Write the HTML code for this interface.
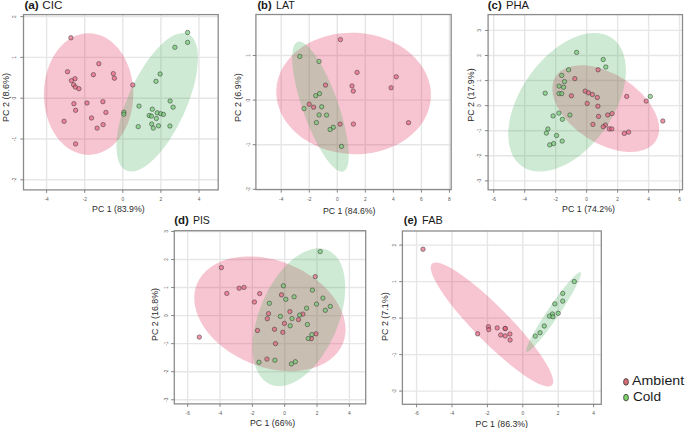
<!DOCTYPE html>
<html><head><meta charset="utf-8"><style>
html,body{margin:0;padding:0;background:#fff;}
body{width:685px;height:428px;overflow:hidden;}
svg{display:block;}
text{font-family:"Liberation Sans",sans-serif;}
.tk{font-size:4.8px;fill:#555;}
.ti{font-size:10.8px;fill:#1a1a1a;}
.ax{font-size:9.2px;fill:#2a2a2a;}
.lg{font-size:13.1px;fill:#1a1a1a;}
circle{stroke:rgba(55,55,55,0.7);stroke-width:0.75;}
</style></head><body>
<svg width="685" height="428" viewBox="0 0 685 428">
<g id="pa">
<path d="M46.6 14.6V189.9M84.7 14.6V189.9M122.8 14.6V189.9M160.9 14.6V189.9M199 14.6V189.9M23.5 179.8H218.2M23.5 139H218.2M23.5 98.2H218.2M23.5 57.4H218.2M23.5 16.6H218.2" stroke="rgb(230,230,230)" stroke-width="1.4" fill="none"/>
<ellipse cx="88.6" cy="94.1" rx="44.7" ry="60.9" transform="rotate(0 88.6 94.1)" fill="rgb(223,23,71)" fill-opacity="0.25"/>
<ellipse cx="157.2" cy="102.25" rx="29.1" ry="75" transform="rotate(24.4 157.2 102.25)" fill="rgb(59,171,83)" fill-opacity="0.25"/>
<circle cx="70.9" cy="37.8" r="2.2" fill="rgba(232,94,124,0.65)"/>
<circle cx="98.8" cy="63.7" r="2.2" fill="rgba(232,94,124,0.65)"/>
<circle cx="67.5" cy="71.7" r="2.2" fill="rgba(232,94,124,0.65)"/>
<circle cx="93.4" cy="74.7" r="2.2" fill="rgba(232,94,124,0.65)"/>
<circle cx="113.3" cy="73.6" r="2.2" fill="rgba(232,94,124,0.65)"/>
<circle cx="114.4" cy="78.2" r="2.2" fill="rgba(232,94,124,0.65)"/>
<circle cx="75" cy="78.7" r="2.2" fill="rgba(232,94,124,0.65)"/>
<circle cx="71.4" cy="80.6" r="2.2" fill="rgba(232,94,124,0.65)"/>
<circle cx="73.6" cy="84.8" r="2.2" fill="rgba(232,94,124,0.65)"/>
<circle cx="75.4" cy="87.1" r="2.2" fill="rgba(232,94,124,0.65)"/>
<circle cx="78.9" cy="88.7" r="2.2" fill="rgba(232,94,124,0.65)"/>
<circle cx="73.9" cy="103.7" r="2.2" fill="rgba(232,94,124,0.65)"/>
<circle cx="87" cy="103" r="2.2" fill="rgba(232,94,124,0.65)"/>
<circle cx="102.9" cy="101.7" r="2.2" fill="rgba(232,94,124,0.65)"/>
<circle cx="75.6" cy="110.3" r="2.2" fill="rgba(232,94,124,0.65)"/>
<circle cx="105.9" cy="112.4" r="2.2" fill="rgba(232,94,124,0.65)"/>
<circle cx="64.1" cy="121.3" r="2.2" fill="rgba(232,94,124,0.65)"/>
<circle cx="91.5" cy="118" r="2.2" fill="rgba(232,94,124,0.65)"/>
<circle cx="103.1" cy="124.6" r="2.2" fill="rgba(232,94,124,0.65)"/>
<circle cx="97.1" cy="128.1" r="2.2" fill="rgba(232,94,124,0.65)"/>
<circle cx="75.6" cy="143.9" r="2.2" fill="rgba(232,94,124,0.65)"/>
<circle cx="132.8" cy="85" r="2.2" fill="rgba(232,94,124,0.65)"/>
<circle cx="187.6" cy="32.5" r="2.2" fill="rgba(109,201,109,0.65)"/>
<circle cx="187.6" cy="42.4" r="2.2" fill="rgba(109,201,109,0.65)"/>
<circle cx="174.9" cy="47.3" r="2.2" fill="rgba(109,201,109,0.65)"/>
<circle cx="160.1" cy="74" r="2.2" fill="rgba(109,201,109,0.65)"/>
<circle cx="156" cy="81.3" r="2.2" fill="rgba(109,201,109,0.65)"/>
<circle cx="170.1" cy="101" r="2.2" fill="rgba(109,201,109,0.65)"/>
<circle cx="173.1" cy="107.2" r="2.2" fill="rgba(109,201,109,0.65)"/>
<circle cx="139" cy="106.1" r="2.2" fill="rgba(109,201,109,0.65)"/>
<circle cx="152.3" cy="109.2" r="2.2" fill="rgba(109,201,109,0.65)"/>
<circle cx="123.8" cy="112.2" r="2.2" fill="rgba(109,201,109,0.65)"/>
<circle cx="123.8" cy="114.2" r="2.2" fill="rgba(109,201,109,0.65)"/>
<circle cx="157.2" cy="112.8" r="2.2" fill="rgba(109,201,109,0.65)"/>
<circle cx="160.7" cy="113.7" r="2.2" fill="rgba(109,201,109,0.65)"/>
<circle cx="163.4" cy="114.4" r="2.2" fill="rgba(109,201,109,0.65)"/>
<circle cx="149.2" cy="115.5" r="2.2" fill="rgba(109,201,109,0.65)"/>
<circle cx="151.4" cy="116.1" r="2.2" fill="rgba(109,201,109,0.65)"/>
<circle cx="156.4" cy="118.5" r="2.2" fill="rgba(109,201,109,0.65)"/>
<circle cx="151.7" cy="124" r="2.2" fill="rgba(109,201,109,0.65)"/>
<circle cx="138.2" cy="126.6" r="2.2" fill="rgba(109,201,109,0.65)"/>
<circle cx="158.5" cy="125.8" r="2.2" fill="rgba(109,201,109,0.65)"/>
<circle cx="169.9" cy="126" r="2.2" fill="rgba(109,201,109,0.65)"/>
<circle cx="153.3" cy="128.1" r="2.2" fill="rgba(109,201,109,0.65)"/>
<rect x="23.5" y="14.6" width="194.7" height="175.3" fill="none" stroke="rgb(140,140,140)" stroke-width="1.3"/>
<path d="M46.6 189.9v3M84.7 189.9v3M122.8 189.9v3M160.9 189.9v3M199 189.9v3M23.5 179.8h-3.2M23.5 139h-3.2M23.5 98.2h-3.2M23.5 57.4h-3.2M23.5 16.6h-3.2" stroke="rgb(120,120,120)" stroke-width="0.9" fill="none"/>
<text x="46.6" y="201" class="tk" text-anchor="middle">-4</text>
<text x="84.7" y="201" class="tk" text-anchor="middle">-2</text>
<text x="122.8" y="201" class="tk" text-anchor="middle">0</text>
<text x="160.9" y="201" class="tk" text-anchor="middle">2</text>
<text x="199" y="201" class="tk" text-anchor="middle">4</text>
<text transform="translate(16 179.8) rotate(-90)" class="tk" text-anchor="middle">-2</text>
<text transform="translate(16 139) rotate(-90)" class="tk" text-anchor="middle">-1</text>
<text transform="translate(16 98.2) rotate(-90)" class="tk" text-anchor="middle">0</text>
<text transform="translate(16 57.4) rotate(-90)" class="tk" text-anchor="middle">1</text>
<text transform="translate(16 16.6) rotate(-90)" class="tk" text-anchor="middle">2</text>
<text x="24.4" y="8.9" class="ti" font-weight="bold" textLength="14.4" lengthAdjust="spacingAndGlyphs">(a)</text>
<text x="42.3" y="8.9" class="ti" textLength="20.2" lengthAdjust="spacingAndGlyphs">CIC</text>
<text x="92.1" y="212" class="ax" textLength="52.5" lengthAdjust="spacingAndGlyphs">PC 1 (83.9%)</text>
<text transform="translate(9.1 121.9) rotate(-90)" class="ax" textLength="49" lengthAdjust="spacingAndGlyphs">PC 2 (8.6%)</text>
</g>
<g id="pb">
<path d="M281.22 14.5V189.6M309.26 14.5V189.6M337.3 14.5V189.6M365.34 14.5V189.6M393.38 14.5V189.6M421.42 14.5V189.6M449.46 14.5V189.6M255.9 189.3H451.2M255.9 144.7H451.2M255.9 100.1H451.2M255.9 55.5H451.2" stroke="rgb(230,230,230)" stroke-width="1.4" fill="none"/>
<ellipse cx="353.6" cy="93.45" rx="77.4" ry="60.7" transform="rotate(3 353.6 93.45)" fill="rgb(223,23,71)" fill-opacity="0.25"/>
<ellipse cx="320.45" cy="106.6" rx="17.8" ry="68.7" transform="rotate(-19.4 320.45 106.6)" fill="rgb(59,171,83)" fill-opacity="0.25"/>
<circle cx="340.4" cy="39.6" r="2.2" fill="rgba(232,94,124,0.65)"/>
<circle cx="325.5" cy="85.1" r="2.2" fill="rgba(232,94,124,0.65)"/>
<circle cx="357.1" cy="72.4" r="2.2" fill="rgba(232,94,124,0.65)"/>
<circle cx="352" cy="85.9" r="2.2" fill="rgba(232,94,124,0.65)"/>
<circle cx="353.3" cy="91.1" r="2.2" fill="rgba(232,94,124,0.65)"/>
<circle cx="396.3" cy="76.8" r="2.2" fill="rgba(232,94,124,0.65)"/>
<circle cx="391.1" cy="87.8" r="2.2" fill="rgba(232,94,124,0.65)"/>
<circle cx="309.2" cy="104.2" r="2.2" fill="rgba(232,94,124,0.65)"/>
<circle cx="313.6" cy="107.2" r="2.2" fill="rgba(232,94,124,0.65)"/>
<circle cx="340.1" cy="124.1" r="2.2" fill="rgba(232,94,124,0.65)"/>
<circle cx="353.4" cy="124.1" r="2.2" fill="rgba(232,94,124,0.65)"/>
<circle cx="408.5" cy="122.7" r="2.2" fill="rgba(232,94,124,0.65)"/>
<circle cx="299.8" cy="56.4" r="2.2" fill="rgba(109,201,109,0.65)"/>
<circle cx="319" cy="61.4" r="2.2" fill="rgba(109,201,109,0.65)"/>
<circle cx="315.7" cy="95.7" r="2.2" fill="rgba(109,201,109,0.65)"/>
<circle cx="319.5" cy="93.6" r="2.2" fill="rgba(109,201,109,0.65)"/>
<circle cx="304" cy="108.6" r="2.2" fill="rgba(109,201,109,0.65)"/>
<circle cx="321.7" cy="106.8" r="2.2" fill="rgba(109,201,109,0.65)"/>
<circle cx="319.1" cy="114.9" r="2.2" fill="rgba(109,201,109,0.65)"/>
<circle cx="326.6" cy="115.1" r="2.2" fill="rgba(109,201,109,0.65)"/>
<circle cx="316.4" cy="122.6" r="2.2" fill="rgba(109,201,109,0.65)"/>
<circle cx="333.3" cy="127.3" r="2.2" fill="rgba(109,201,109,0.65)"/>
<circle cx="330.1" cy="129.5" r="2.2" fill="rgba(109,201,109,0.65)"/>
<circle cx="341.5" cy="146.4" r="2.2" fill="rgba(109,201,109,0.65)"/>
<rect x="255.9" y="14.5" width="195.3" height="175.1" fill="none" stroke="rgb(140,140,140)" stroke-width="1.3"/>
<path d="M281.22 189.6v3M309.26 189.6v3M337.3 189.6v3M365.34 189.6v3M393.38 189.6v3M421.42 189.6v3M449.46 189.6v3M255.9 189.3h-3.2M255.9 144.7h-3.2M255.9 100.1h-3.2M255.9 55.5h-3.2" stroke="rgb(120,120,120)" stroke-width="0.9" fill="none"/>
<text x="281.22" y="201" class="tk" text-anchor="middle">-4</text>
<text x="309.26" y="201" class="tk" text-anchor="middle">-2</text>
<text x="337.3" y="201" class="tk" text-anchor="middle">0</text>
<text x="365.34" y="201" class="tk" text-anchor="middle">2</text>
<text x="393.38" y="201" class="tk" text-anchor="middle">4</text>
<text x="421.42" y="201" class="tk" text-anchor="middle">6</text>
<text x="449.46" y="201" class="tk" text-anchor="middle">8</text>
<text transform="translate(249.5 189.3) rotate(-90)" class="tk" text-anchor="middle">-2</text>
<text transform="translate(249.5 144.7) rotate(-90)" class="tk" text-anchor="middle">-1</text>
<text transform="translate(249.5 100.1) rotate(-90)" class="tk" text-anchor="middle">0</text>
<text transform="translate(249.5 55.5) rotate(-90)" class="tk" text-anchor="middle">1</text>
<text x="257.4" y="8.9" class="ti" font-weight="bold" textLength="14.3" lengthAdjust="spacingAndGlyphs">(b)</text>
<text x="276.1" y="8.9" class="ti" textLength="18.8" lengthAdjust="spacingAndGlyphs">LAT</text>
<text x="323" y="214.2" class="ax" textLength="52.5" lengthAdjust="spacingAndGlyphs">PC 1 (84.6%)</text>
<text transform="translate(241.2 122) rotate(-90)" class="ax" textLength="48.7" lengthAdjust="spacingAndGlyphs">PC 2 (6.9%)</text>
</g>
<g id="pc">
<path d="M493.71 14.6V189.8M524.69 14.6V189.8M555.67 14.6V189.8M586.65 14.6V189.8M617.63 14.6V189.8M648.61 14.6V189.8M679.59 14.6V189.8M488.1 180.89H682.5M488.1 155.81H682.5M488.1 130.73H682.5M488.1 105.65H682.5M488.1 80.57H682.5M488.1 55.49H682.5M488.1 30.41H682.5" stroke="rgb(230,230,230)" stroke-width="1.4" fill="none"/>
<ellipse cx="605.75" cy="108.65" rx="59.5" ry="34.6" transform="rotate(32.8 605.75 108.65)" fill="rgb(223,23,71)" fill-opacity="0.25"/>
<ellipse cx="567.1" cy="102.3" rx="46.2" ry="78.3" transform="rotate(35.25 567.1 102.3)" fill="rgb(59,171,83)" fill-opacity="0.25"/>
<circle cx="574.8" cy="78.6" r="2.2" fill="rgba(232,94,124,0.65)"/>
<circle cx="598.1" cy="69.8" r="2.2" fill="rgba(232,94,124,0.65)"/>
<circle cx="585.1" cy="91.1" r="2.2" fill="rgba(232,94,124,0.65)"/>
<circle cx="588.4" cy="92.8" r="2.2" fill="rgba(232,94,124,0.65)"/>
<circle cx="592.4" cy="94.5" r="2.2" fill="rgba(232,94,124,0.65)"/>
<circle cx="597.3" cy="97.5" r="2.2" fill="rgba(232,94,124,0.65)"/>
<circle cx="571.4" cy="95.8" r="2.2" fill="rgba(232,94,124,0.65)"/>
<circle cx="587.2" cy="103.4" r="2.2" fill="rgba(232,94,124,0.65)"/>
<circle cx="597.9" cy="106.2" r="2.2" fill="rgba(232,94,124,0.65)"/>
<circle cx="598.5" cy="116.4" r="2.2" fill="rgba(232,94,124,0.65)"/>
<circle cx="607.7" cy="115" r="2.2" fill="rgba(232,94,124,0.65)"/>
<circle cx="612.1" cy="113.6" r="2.2" fill="rgba(232,94,124,0.65)"/>
<circle cx="592.9" cy="124.4" r="2.2" fill="rgba(232,94,124,0.65)"/>
<circle cx="605.4" cy="125.1" r="2.2" fill="rgba(232,94,124,0.65)"/>
<circle cx="603.2" cy="126.8" r="2.2" fill="rgba(232,94,124,0.65)"/>
<circle cx="609.3" cy="128.9" r="2.2" fill="rgba(232,94,124,0.65)"/>
<circle cx="611.8" cy="128.9" r="2.2" fill="rgba(232,94,124,0.65)"/>
<circle cx="624.3" cy="133.4" r="2.2" fill="rgba(232,94,124,0.65)"/>
<circle cx="628.6" cy="132.1" r="2.2" fill="rgba(232,94,124,0.65)"/>
<circle cx="626.7" cy="96.4" r="2.2" fill="rgba(232,94,124,0.65)"/>
<circle cx="646.2" cy="101.1" r="2.2" fill="rgba(232,94,124,0.65)"/>
<circle cx="662.8" cy="121" r="2.2" fill="rgba(232,94,124,0.65)"/>
<circle cx="576.6" cy="52.4" r="2.2" fill="rgba(109,201,109,0.65)"/>
<circle cx="603.2" cy="59.5" r="2.2" fill="rgba(109,201,109,0.65)"/>
<circle cx="605.8" cy="67" r="2.2" fill="rgba(109,201,109,0.65)"/>
<circle cx="568.6" cy="69.8" r="2.2" fill="rgba(109,201,109,0.65)"/>
<circle cx="561.7" cy="75.4" r="2.2" fill="rgba(109,201,109,0.65)"/>
<circle cx="564.5" cy="81.6" r="2.2" fill="rgba(109,201,109,0.65)"/>
<circle cx="559.1" cy="86.1" r="2.2" fill="rgba(109,201,109,0.65)"/>
<circle cx="563.6" cy="87.2" r="2.2" fill="rgba(109,201,109,0.65)"/>
<circle cx="545.2" cy="93.2" r="2.2" fill="rgba(109,201,109,0.65)"/>
<circle cx="559.1" cy="93.6" r="2.2" fill="rgba(109,201,109,0.65)"/>
<circle cx="561.7" cy="93.6" r="2.2" fill="rgba(109,201,109,0.65)"/>
<circle cx="650.3" cy="96.4" r="2.2" fill="rgba(109,201,109,0.65)"/>
<circle cx="558.9" cy="113.1" r="2.2" fill="rgba(109,201,109,0.65)"/>
<circle cx="553.1" cy="115.9" r="2.2" fill="rgba(109,201,109,0.65)"/>
<circle cx="562.4" cy="119.3" r="2.2" fill="rgba(109,201,109,0.65)"/>
<circle cx="569.9" cy="115" r="2.2" fill="rgba(109,201,109,0.65)"/>
<circle cx="547.9" cy="129" r="2.2" fill="rgba(109,201,109,0.65)"/>
<circle cx="546.4" cy="133.1" r="2.2" fill="rgba(109,201,109,0.65)"/>
<circle cx="556.6" cy="135.5" r="2.2" fill="rgba(109,201,109,0.65)"/>
<circle cx="562.2" cy="141.1" r="2.2" fill="rgba(109,201,109,0.65)"/>
<circle cx="553.6" cy="143.6" r="2.2" fill="rgba(109,201,109,0.65)"/>
<circle cx="549.7" cy="144.9" r="2.2" fill="rgba(109,201,109,0.65)"/>
<rect x="488.1" y="14.6" width="194.4" height="175.2" fill="none" stroke="rgb(140,140,140)" stroke-width="1.3"/>
<path d="M493.71 189.8v3M524.69 189.8v3M555.67 189.8v3M586.65 189.8v3M617.63 189.8v3M648.61 189.8v3M679.59 189.8v3M488.1 180.89h-3.2M488.1 155.81h-3.2M488.1 130.73h-3.2M488.1 105.65h-3.2M488.1 80.57h-3.2M488.1 55.49h-3.2M488.1 30.41h-3.2" stroke="rgb(120,120,120)" stroke-width="0.9" fill="none"/>
<text x="493.71" y="201" class="tk" text-anchor="middle">-6</text>
<text x="524.69" y="201" class="tk" text-anchor="middle">-4</text>
<text x="555.67" y="201" class="tk" text-anchor="middle">-2</text>
<text x="586.65" y="201" class="tk" text-anchor="middle">0</text>
<text x="617.63" y="201" class="tk" text-anchor="middle">2</text>
<text x="648.61" y="201" class="tk" text-anchor="middle">4</text>
<text x="679.59" y="201" class="tk" text-anchor="middle">6</text>
<text transform="translate(481.2 180.89) rotate(-90)" class="tk" text-anchor="middle">-3</text>
<text transform="translate(481.2 155.81) rotate(-90)" class="tk" text-anchor="middle">-2</text>
<text transform="translate(481.2 130.73) rotate(-90)" class="tk" text-anchor="middle">-1</text>
<text transform="translate(481.2 105.65) rotate(-90)" class="tk" text-anchor="middle">0</text>
<text transform="translate(481.2 80.57) rotate(-90)" class="tk" text-anchor="middle">1</text>
<text transform="translate(481.2 55.49) rotate(-90)" class="tk" text-anchor="middle">2</text>
<text transform="translate(481.2 30.41) rotate(-90)" class="tk" text-anchor="middle">3</text>
<text x="487.8" y="8.9" class="ti" font-weight="bold" textLength="13.9" lengthAdjust="spacingAndGlyphs">(c)</text>
<text x="505.9" y="8.9" class="ti" textLength="23.1" lengthAdjust="spacingAndGlyphs">PHA</text>
<text x="562.1" y="212" class="ax" textLength="52.9" lengthAdjust="spacingAndGlyphs">PC 1 (74.2%)</text>
<text transform="translate(474.3 121.8) rotate(-90)" class="ax" textLength="53.5" lengthAdjust="spacingAndGlyphs">PC 2 (17.9%)</text>
</g>
<g id="pd">
<path d="M187.68 230.7V403.9M220.02 230.7V403.9M252.36 230.7V403.9M284.7 230.7V403.9M317.04 230.7V403.9M349.38 230.7V403.9M174.3 399.75H365.7M174.3 371.7H365.7M174.3 343.65H365.7M174.3 315.6H365.7M174.3 287.55H365.7M174.3 259.5H365.7M174.3 231.45H365.7" stroke="rgb(230,230,230)" stroke-width="1.4" fill="none"/>
<ellipse cx="269.9" cy="313.8" rx="78.8" ry="53" transform="rotate(22.2 269.9 313.8)" fill="rgb(223,23,71)" fill-opacity="0.25"/>
<ellipse cx="298.9" cy="317.2" rx="39.5" ry="73.1" transform="rotate(23.2 298.9 317.2)" fill="rgb(59,171,83)" fill-opacity="0.25"/>
<circle cx="221.4" cy="267.6" r="2.2" fill="rgba(232,94,124,0.65)"/>
<circle cx="226.8" cy="293.4" r="2.2" fill="rgba(232,94,124,0.65)"/>
<circle cx="239.1" cy="288.2" r="2.2" fill="rgba(232,94,124,0.65)"/>
<circle cx="244" cy="287.4" r="2.2" fill="rgba(232,94,124,0.65)"/>
<circle cx="259.7" cy="293.6" r="2.2" fill="rgba(232,94,124,0.65)"/>
<circle cx="254.4" cy="302" r="2.2" fill="rgba(232,94,124,0.65)"/>
<circle cx="268.5" cy="313.6" r="2.2" fill="rgba(232,94,124,0.65)"/>
<circle cx="267.3" cy="318.7" r="2.2" fill="rgba(232,94,124,0.65)"/>
<circle cx="315.2" cy="276.6" r="2.2" fill="rgba(232,94,124,0.65)"/>
<circle cx="281.5" cy="294.8" r="2.2" fill="rgba(232,94,124,0.65)"/>
<circle cx="289.9" cy="311.6" r="2.2" fill="rgba(232,94,124,0.65)"/>
<circle cx="302.9" cy="314.1" r="2.2" fill="rgba(232,94,124,0.65)"/>
<circle cx="298.5" cy="319.6" r="2.2" fill="rgba(232,94,124,0.65)"/>
<circle cx="284.4" cy="323.4" r="2.2" fill="rgba(232,94,124,0.65)"/>
<circle cx="257.5" cy="330.5" r="2.2" fill="rgba(232,94,124,0.65)"/>
<circle cx="274.5" cy="329.3" r="2.2" fill="rgba(232,94,124,0.65)"/>
<circle cx="282.8" cy="332.3" r="2.2" fill="rgba(232,94,124,0.65)"/>
<circle cx="316" cy="333.8" r="2.2" fill="rgba(232,94,124,0.65)"/>
<circle cx="311.4" cy="338.7" r="2.2" fill="rgba(232,94,124,0.65)"/>
<circle cx="275.5" cy="343.6" r="2.2" fill="rgba(232,94,124,0.65)"/>
<circle cx="266.9" cy="359.1" r="2.2" fill="rgba(232,94,124,0.65)"/>
<circle cx="199.3" cy="337.1" r="2.2" fill="rgba(232,94,124,0.65)"/>
<circle cx="320.2" cy="251.6" r="2.2" fill="rgba(109,201,109,0.65)"/>
<circle cx="283.4" cy="285.8" r="2.2" fill="rgba(109,201,109,0.65)"/>
<circle cx="312.4" cy="290.1" r="2.2" fill="rgba(109,201,109,0.65)"/>
<circle cx="294.1" cy="296.8" r="2.2" fill="rgba(109,201,109,0.65)"/>
<circle cx="285.8" cy="299.3" r="2.2" fill="rgba(109,201,109,0.65)"/>
<circle cx="322.9" cy="298.1" r="2.2" fill="rgba(109,201,109,0.65)"/>
<circle cx="269.4" cy="303.3" r="2.2" fill="rgba(109,201,109,0.65)"/>
<circle cx="316.5" cy="304.1" r="2.2" fill="rgba(109,201,109,0.65)"/>
<circle cx="330.3" cy="306.4" r="2.2" fill="rgba(109,201,109,0.65)"/>
<circle cx="325.3" cy="310.3" r="2.2" fill="rgba(109,201,109,0.65)"/>
<circle cx="306.6" cy="308.2" r="2.2" fill="rgba(109,201,109,0.65)"/>
<circle cx="299.6" cy="315.1" r="2.2" fill="rgba(109,201,109,0.65)"/>
<circle cx="280.4" cy="316.4" r="2.2" fill="rgba(109,201,109,0.65)"/>
<circle cx="292" cy="318.6" r="2.2" fill="rgba(109,201,109,0.65)"/>
<circle cx="307.4" cy="324.5" r="2.2" fill="rgba(109,201,109,0.65)"/>
<circle cx="290.2" cy="325.8" r="2.2" fill="rgba(109,201,109,0.65)"/>
<circle cx="311.9" cy="334.6" r="2.2" fill="rgba(109,201,109,0.65)"/>
<circle cx="308.2" cy="338.5" r="2.2" fill="rgba(109,201,109,0.65)"/>
<circle cx="259" cy="362.2" r="2.2" fill="rgba(109,201,109,0.65)"/>
<circle cx="274.9" cy="360.2" r="2.2" fill="rgba(109,201,109,0.65)"/>
<circle cx="291.4" cy="363.9" r="2.2" fill="rgba(109,201,109,0.65)"/>
<circle cx="295.3" cy="361.7" r="2.2" fill="rgba(109,201,109,0.65)"/>
<rect x="174.3" y="230.7" width="191.4" height="173.2" fill="none" stroke="rgb(140,140,140)" stroke-width="1.3"/>
<path d="M187.68 403.9v3M220.02 403.9v3M252.36 403.9v3M284.7 403.9v3M317.04 403.9v3M349.38 403.9v3M174.3 399.75h-3.2M174.3 371.7h-3.2M174.3 343.65h-3.2M174.3 315.6h-3.2M174.3 287.55h-3.2M174.3 259.5h-3.2M174.3 231.45h-3.2" stroke="rgb(120,120,120)" stroke-width="0.9" fill="none"/>
<text x="187.68" y="414.7" class="tk" text-anchor="middle">-6</text>
<text x="220.02" y="414.7" class="tk" text-anchor="middle">-4</text>
<text x="252.36" y="414.7" class="tk" text-anchor="middle">-2</text>
<text x="284.7" y="414.7" class="tk" text-anchor="middle">0</text>
<text x="317.04" y="414.7" class="tk" text-anchor="middle">2</text>
<text x="349.38" y="414.7" class="tk" text-anchor="middle">4</text>
<text transform="translate(167.5 399.75) rotate(-90)" class="tk" text-anchor="middle">-3</text>
<text transform="translate(167.5 371.7) rotate(-90)" class="tk" text-anchor="middle">-2</text>
<text transform="translate(167.5 343.65) rotate(-90)" class="tk" text-anchor="middle">-1</text>
<text transform="translate(167.5 315.6) rotate(-90)" class="tk" text-anchor="middle">0</text>
<text transform="translate(167.5 287.55) rotate(-90)" class="tk" text-anchor="middle">1</text>
<text transform="translate(167.5 259.5) rotate(-90)" class="tk" text-anchor="middle">2</text>
<text transform="translate(167.5 231.45) rotate(-90)" class="tk" text-anchor="middle">3</text>
<text x="174.2" y="223.6" class="ti" font-weight="bold" textLength="14.6" lengthAdjust="spacingAndGlyphs">(d)</text>
<text x="192.9" y="223.6" class="ti" textLength="16.9" lengthAdjust="spacingAndGlyphs">PIS</text>
<text x="250" y="426" class="ax" textLength="45.2" lengthAdjust="spacingAndGlyphs">PC 1 (66%)</text>
<text transform="translate(158 341) rotate(-90)" class="ax" textLength="53" lengthAdjust="spacingAndGlyphs">PC 2 (16.8%)</text>
</g>
<g id="pe">
<path d="M416.6 231V404.3M452 231V404.3M487.4 231V404.3M522.8 231V404.3M558.2 231V404.3M593.6 231V404.3M402.4 391.1H601.3M402.4 354.6H601.3M402.4 318.1H601.3M402.4 281.6H601.3M402.4 245.1H601.3" stroke="rgb(230,230,230)" stroke-width="1.4" fill="none"/>
<ellipse cx="491.95" cy="324.45" rx="85.4" ry="17.5" transform="rotate(45.4 491.95 324.45)" fill="rgb(223,23,71)" fill-opacity="0.25"/>
<ellipse cx="553.55" cy="312.1" rx="5.9" ry="48.1" transform="rotate(34.2 553.55 312.1)" fill="rgb(59,171,83)" fill-opacity="0.25"/>
<circle cx="423" cy="249.2" r="2.2" fill="rgba(232,94,124,0.65)"/>
<circle cx="477.6" cy="333.8" r="2.2" fill="rgba(232,94,124,0.65)"/>
<circle cx="488.4" cy="326.7" r="2.2" fill="rgba(232,94,124,0.65)"/>
<circle cx="488.8" cy="329.6" r="2.2" fill="rgba(232,94,124,0.65)"/>
<circle cx="497.2" cy="327.9" r="2.2" fill="rgba(232,94,124,0.65)"/>
<circle cx="505.2" cy="328.5" r="2.2" fill="rgba(232,94,124,0.65)"/>
<circle cx="505.2" cy="328.5" r="2.2" fill="rgba(232,94,124,0.65)"/>
<circle cx="500.7" cy="335" r="2.2" fill="rgba(232,94,124,0.65)"/>
<circle cx="505.2" cy="335.9" r="2.2" fill="rgba(232,94,124,0.65)"/>
<circle cx="509.9" cy="334" r="2.2" fill="rgba(232,94,124,0.65)"/>
<circle cx="510.1" cy="340" r="2.2" fill="rgba(232,94,124,0.65)"/>
<circle cx="574.3" cy="281.5" r="2.2" fill="rgba(109,201,109,0.65)"/>
<circle cx="562.7" cy="293.4" r="2.2" fill="rgba(109,201,109,0.65)"/>
<circle cx="562.7" cy="301.1" r="2.2" fill="rgba(109,201,109,0.65)"/>
<circle cx="554.8" cy="303.9" r="2.2" fill="rgba(109,201,109,0.65)"/>
<circle cx="558.2" cy="313.3" r="2.2" fill="rgba(109,201,109,0.65)"/>
<circle cx="552.4" cy="314" r="2.2" fill="rgba(109,201,109,0.65)"/>
<circle cx="549.4" cy="316.1" r="2.2" fill="rgba(109,201,109,0.65)"/>
<circle cx="552.9" cy="316.7" r="2.2" fill="rgba(109,201,109,0.65)"/>
<circle cx="544.3" cy="326" r="2.2" fill="rgba(109,201,109,0.65)"/>
<circle cx="540" cy="332.8" r="2.2" fill="rgba(109,201,109,0.65)"/>
<circle cx="535.3" cy="336.1" r="2.2" fill="rgba(109,201,109,0.65)"/>
<rect x="402.4" y="231" width="198.9" height="173.3" fill="none" stroke="rgb(140,140,140)" stroke-width="1.3"/>
<path d="M416.6 404.3v3M452 404.3v3M487.4 404.3v3M522.8 404.3v3M558.2 404.3v3M593.6 404.3v3M402.4 391.1h-3.2M402.4 354.6h-3.2M402.4 318.1h-3.2M402.4 281.6h-3.2M402.4 245.1h-3.2" stroke="rgb(120,120,120)" stroke-width="0.9" fill="none"/>
<text x="416.6" y="415.2" class="tk" text-anchor="middle">-6</text>
<text x="452" y="415.2" class="tk" text-anchor="middle">-4</text>
<text x="487.4" y="415.2" class="tk" text-anchor="middle">-2</text>
<text x="522.8" y="415.2" class="tk" text-anchor="middle">0</text>
<text x="558.2" y="415.2" class="tk" text-anchor="middle">2</text>
<text x="593.6" y="415.2" class="tk" text-anchor="middle">4</text>
<text transform="translate(395.7 391.1) rotate(-90)" class="tk" text-anchor="middle">-2</text>
<text transform="translate(395.7 354.6) rotate(-90)" class="tk" text-anchor="middle">-1</text>
<text transform="translate(395.7 318.1) rotate(-90)" class="tk" text-anchor="middle">0</text>
<text transform="translate(395.7 281.6) rotate(-90)" class="tk" text-anchor="middle">1</text>
<text transform="translate(395.7 245.1) rotate(-90)" class="tk" text-anchor="middle">2</text>
<text x="403.7" y="223.6" class="ti" font-weight="bold" textLength="13.6" lengthAdjust="spacingAndGlyphs">(e)</text>
<text x="422.1" y="223.6" class="ti" textLength="20.6" lengthAdjust="spacingAndGlyphs">FAB</text>
<text x="475.6" y="426.5" class="ax" textLength="52.3" lengthAdjust="spacingAndGlyphs">PC 1 (86.3%)</text>
<text transform="translate(387.5 341) rotate(-90)" class="ax" textLength="48.7" lengthAdjust="spacingAndGlyphs">PC 2 (7.1%)</text>
</g>
<g id="legend">
<ellipse cx="626.0" cy="381.9" rx="2.4" ry="3.3" fill="rgb(215,110,118)" stroke="rgb(50,50,50)" stroke-width="0.8"/>
<ellipse cx="626.0" cy="397.6" rx="2.4" ry="3.3" fill="rgb(125,210,105)" stroke="rgb(50,50,50)" stroke-width="0.8"/>
<text x="632.1" y="384.7" class="lg" textLength="52" lengthAdjust="spacingAndGlyphs">Ambient</text>
<text x="632.9" y="400.7" class="lg" textLength="28.1" lengthAdjust="spacingAndGlyphs">Cold</text>
</g>
</svg>
</body></html>
